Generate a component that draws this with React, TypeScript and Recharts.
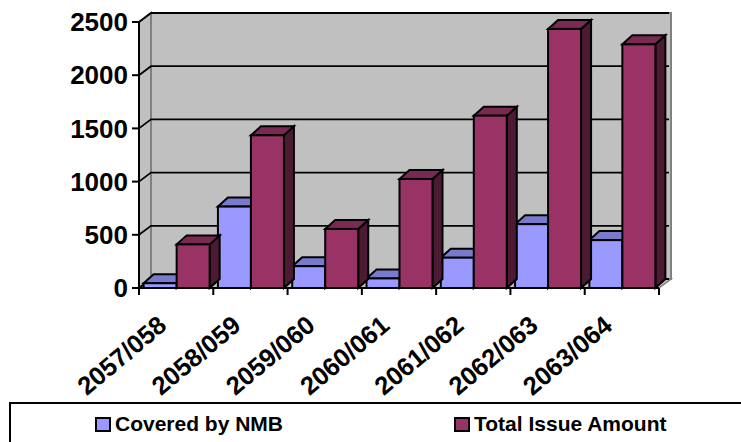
import { BarChart, Bar, XAxis, YAxis, CartesianGrid, Legend } from 'recharts';

const periods = ['2057/058', '2058/059', '2059/060', '2060/061', '2061/062', '2062/063', '2063/064'];
const coveredByNmb = [45, 765, 205, 90, 285, 600, 450];
const totalIssue = [410, 1435, 555, 1025, 1620, 2435, 2290];
const valueTicks = [0, 500, 1000, 1500, 2000, 2500];

const rows = periods.map((period, i) => ({
  period,
  covered: coveredByNmb[i],
  total: totalIssue[i],
}));

const FONT = '"Liberation Sans", Arial, sans-serif';
const W = 741;
const H = 442;
const LEFT = 139;
const TOP = 22;
const RIGHT_EDGE = 659;
const BASE = 288;
const LEGEND_H = 46;
// offset of the back plane relative to the front plane
const DX = 12;
const DY = 9;
const BAND = (RIGHT_EDGE - LEFT) / periods.length;

function Walls() {
  const topBack = TOP - DY;
  const right = RIGHT_EDGE + DX;
  const floorBack = BASE - DY;
  return (
    <g>
      <polygon
        points={`${LEFT + DX},${topBack} ${right},${topBack} ${right},${floorBack} ${LEFT + DX},${floorBack}`}
        fill="#c0c0c0"
        stroke="#808080"
        strokeWidth={2}
      />
      <polygon
        points={`${LEFT},${TOP} ${LEFT + DX},${topBack} ${LEFT + DX},${floorBack} ${LEFT},${BASE}`}
        fill="#c0c0c0"
        stroke="#808080"
        strokeWidth={2}
      />
      <polygon
        points={`${LEFT},${BASE} ${LEFT + DX},${floorBack} ${right},${floorBack} ${RIGHT_EDGE},${BASE}`}
        fill="#c0c0c0"
        stroke="#808080"
        strokeWidth={1.5}
      />
    </g>
  );
}

// first grid line also lays down the walls so everything stays behind the bars
function GridLine({ x1, x2, y1, index }: any) {
  return (
    <g>
      {index === 0 && <Walls />}
      <polyline
        points={`${x1},${y1} ${x1 + DX},${y1 - DY} ${x2 + DX - 2},${y1 - DY}`}
        stroke="#000"
        strokeWidth={1.8}
        fill="none"
      />
    </g>
  );
}

// box with a lit top and a shaded side
function Box3D({ x, y, width, height, face, top, side }: any) {
  const r = x + width;
  const b = y + height;
  const dx = 10;
  const dy = 9;
  return (
    <g stroke="#000" strokeWidth={2} strokeLinejoin="miter">
      <polygon points={`${r},${y} ${r + dx},${y - dy} ${r + dx},${b - dy} ${r},${b}`} fill={side} />
      <polygon points={`${x},${y} ${x + dx},${y - dy} ${r + dx},${y - dy} ${r},${y}`} fill={top} />
      <rect x={x} y={y} width={width} height={height} fill={face} />
    </g>
  );
}

function PeriodTick({ x, payload, index }: any) {
  const left = x - BAND / 2;
  const tx = x - 8;
  const ty = BASE + 40;
  return (
    <g>
      <line x1={left} x2={left} y1={BASE} y2={BASE + 7} stroke="#000" strokeWidth={2} />
      {index === periods.length - 1 && (
        <line x1={left + BAND} x2={left + BAND} y1={BASE} y2={BASE + 7} stroke="#000" strokeWidth={2} />
      )}
      <text
        x={tx}
        y={ty}
        textAnchor="end"
        fontFamily={FONT}
        fontWeight="bold"
        fontSize={25.5}
        fill="#000"
        transform={`rotate(-40 ${tx} ${ty})`}
      >
        {payload.value}
      </text>
    </g>
  );
}

function ChartLegend({ payload }: any) {
  const starts = [95, 454];
  return (
    <div style={{ position: 'relative', width: W, height: 40 }}>
      {(payload || []).map((item: any, i: number) => (
        <div
          key={item.value}
          style={{
            position: 'absolute',
            left: starts[i] - 11,
            top: 8,
            display: 'flex',
            alignItems: 'center',
            fontFamily: FONT,
            fontWeight: 'bold',
            fontSize: 21,
            lineHeight: '24px',
            whiteSpace: 'nowrap',
            color: '#000',
          }}
        >
          <span
            style={{
              width: 12,
              height: 11,
              marginRight: 4,
              background: item.color,
              border: '2px solid #000',
              display: 'inline-block',
            }}
          />
          {item.value}
        </div>
      ))}
    </div>
  );
}

export default function App() {
  return (
    <div style={{ position: 'absolute', left: 0, top: 0, width: W, height: H, overflow: 'hidden', background: '#fff' }}>
      <BarChart
        width={W}
        height={H}
        data={rows}
        margin={{ top: TOP, right: W - RIGHT_EDGE, left: 0, bottom: 0 }}
        barCategoryGap="6.25%"
        barGap={0}
      >
        <CartesianGrid vertical={false} horizontal={(props: any) => <GridLine key={props.key} {...props} />} />
        <XAxis
          dataKey="period"
          interval={0}
          height={H - BASE - LEGEND_H - 2}
          tickLine={false}
          axisLine={{ stroke: '#000', strokeWidth: 2 }}
          tick={<PeriodTick />}
        />
        <YAxis
          type="number"
          domain={[0, 2500]}
          ticks={valueTicks}
          width={LEFT}
          axisLine={{ stroke: '#000', strokeWidth: 2 }}
          tickLine={{ stroke: '#000', strokeWidth: 2 }}
          tickSize={7}
          tickMargin={4}
          tick={{ fontFamily: FONT, fontWeight: 'bold', fontSize: 26, fill: '#000' }}
        />
        <Legend
          verticalAlign="bottom"
          content={<ChartLegend />}
          wrapperStyle={{
            position: 'absolute',
            left: 9,
            top: 402,
            width: W,
            height: LEGEND_H,
            bottom: 'auto',
            borderTop: '2px solid #000',
            borderLeft: '2px solid #000',
          }}
        />
        <Bar
          dataKey="covered"
          name="Covered by NMB"
          fill="#9999ff"
          isAnimationActive={false}
          shape={(p: any) => <Box3D {...p} face="#9999ff" top="#7a7acc" side="#4d4d80" />}
        />
        <Bar
          dataKey="total"
          name="Total Issue Amount"
          fill="#993366"
          isAnimationActive={false}
          shape={(p: any) => <Box3D {...p} face="#993366" top="#7a2952" side="#4d1a33" />}
        />
      </BarChart>
    </div>
  );
}
